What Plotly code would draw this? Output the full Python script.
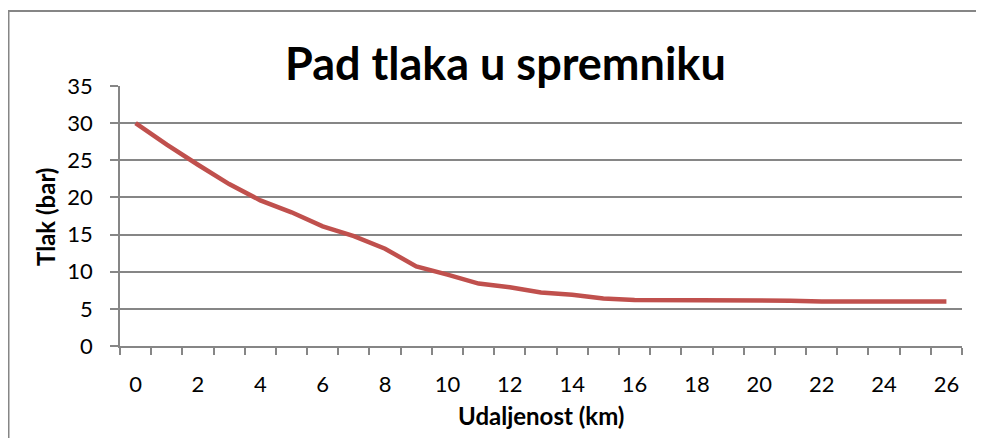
import plotly.graph_objects as go

distance_km = list(range(0, 27))
pressure_bar = [30, 27.1, 24.4, 21.8, 19.6, 18.0, 16.1, 14.8, 13.1, 10.7, 9.6, 8.4, 7.9,
                7.2, 6.9, 6.4, 6.2, 6.2, 6.1, 6.1, 6.1, 6.1, 6.0, 6.0, 6.0, 6.0, 6.0]
x_tick_labels = [str(v) for v in range(0, 27, 2)]
y_ticks = [0, 5, 10, 15, 20, 25, 30, 35]

title_text = "Pad tlaka u spremniku"
x_title = "Udaljenost (km)"
y_title = "Tlak (bar)"

# page body has an 8px margin; all pixel targets below are relative to the viewport
OFF = 8
W, H = 984 - 2 * OFF, 446 - 2 * OFF
L, T = 120 - OFF, 86 - OFF
R = W - (962 - OFF)
B = H - (346 - OFF)
pw, ph = W - L - R, H - T - B

def px_x(px):
    return (px - OFF - L) / pw

def px_y(py):
    return (H - B - (py - OFF)) / ph

FONT = "Lato"
GRAY = "#868686"

fig = go.Figure()
fig.add_trace(go.Scatter(
    x=distance_km, y=pressure_bar, mode="lines",
    line=dict(color="#C0504D", width=4.5), showlegend=False,
))

fig.update_layout(
    width=W, height=H,
    margin=dict(l=L, r=R, t=T, b=B),
    paper_bgcolor="white", plot_bgcolor="white",
    font=dict(family=FONT, color="black", size=22),
    xaxis=dict(
        range=[-0.5, 26.5], tickmode="array",
        tickvals=[int(v) for v in x_tick_labels], ticktext=x_tick_labels,
        ticks="", showgrid=False, zeroline=False,
        showline=True, linecolor=GRAY, linewidth=1.5,
        ticklabelstandoff=18,
        minor=dict(ticks="outside", ticklen=7, tickcolor=GRAY, tickwidth=1.5,
                   tickmode="linear", tick0=-0.5, dtick=1, showgrid=False),
    ),
    yaxis=dict(
        range=[0, 35], tickmode="array", tickvals=y_ticks,
        ticks="outside", ticklen=8, tickcolor=GRAY, tickwidth=1.5,
        showgrid=True, gridcolor=GRAY, gridwidth=1.5, zeroline=False,
        showline=True, linecolor=GRAY, linewidth=1.5,
        ticklabelstandoff=13,
    ),
    shapes=[dict(
        type="rect", xref="paper", yref="paper",
        x0=px_x(8.5), x1=px_x(1010), y0=px_y(470), y1=px_y(11),
        line=dict(color=GRAY, width=2), fillcolor="rgba(0,0,0,0)", layer="above",
    )],
    annotations=[
        dict(text=f"<b>{title_text}</b>", xref="paper", yref="paper",
             x=px_x(505), y=px_y(63), xanchor="center", yanchor="middle",
             showarrow=False, font=dict(family=FONT, size=45, color="black")),
        dict(text=f"<b>{x_title}</b>", xref="paper", yref="paper",
             x=px_x(541), y=px_y(415), xanchor="center", yanchor="middle",
             showarrow=False, font=dict(family=FONT, size=24, color="black")),
        dict(text=f"<b>{y_title}</b>", xref="paper", yref="paper",
             x=px_x(45), y=px_y(217), xanchor="center", yanchor="middle",
             textangle=-90, showarrow=False,
             font=dict(family=FONT, size=24, color="black")),
    ],
)

fig.write_html("out.html")
